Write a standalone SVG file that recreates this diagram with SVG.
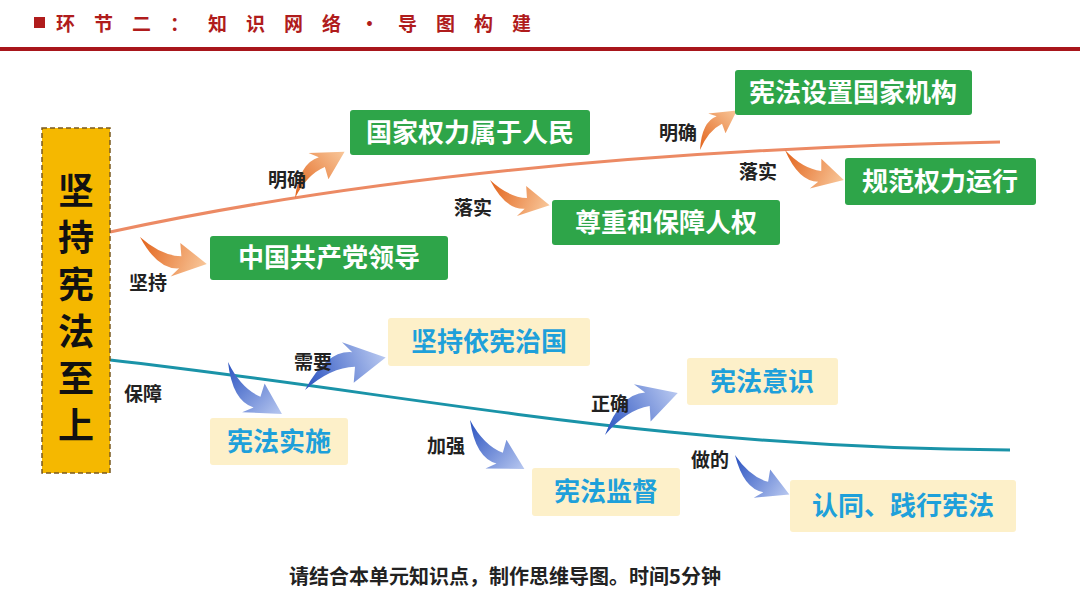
<svg xmlns="http://www.w3.org/2000/svg" width="1080" height="608" viewBox="0 0 1080 608">
<style>
text{font-family:"Noto Sans CJK SC","Liberation Sans",sans-serif;font-weight:bold}
.g{fill:#2ea549}
.c{fill:#fdf0c9}
.gt{fill:#fff;font-size:26px;text-anchor:middle}
.ct{fill:#1ea0da;font-size:26px;text-anchor:middle}
.lb{fill:#222;font-size:19px;text-anchor:middle}
</style>
<defs>
<linearGradient id="og" x1="0" x2="1" y1="0" y2="0"><stop offset="0" stop-color="#e2621a"/><stop offset="1" stop-color="#f8c79a"/></linearGradient>
<linearGradient id="bg" x1="0" x2="1" y1="0" y2="0"><stop offset="0" stop-color="#2a52c0"/><stop offset="1" stop-color="#b8c8f0"/></linearGradient>
<path id="arr" d="M0,0 Q24,-20 40,-12 L36,-21 L60,0 L33,8 L38,-2 Q22,-8 0,0 Z"/>
</defs>
<rect width="1080" height="608" fill="#fff"/>
<rect x="34" y="17" width="11" height="11" fill="#b01c1c"/>
<text x="56" y="31" fill="#b01c1c" font-size="19" letter-spacing="19">环节二：知识网络·导图构建</text>
<rect x="0" y="47" width="1080" height="4" fill="#a8161b"/>
<g id="connectors">
<path d="M110,232 Q480,152 1000,142" fill="none" stroke="#ec8a64" stroke-width="3"/>
<path d="M110,360 C420,395 650,448 1010,450" fill="none" stroke="#1a93a8" stroke-width="3"/>
<g fill="url(#og)">
<use href="#arr" transform="translate(295,198) rotate(-43) scale(1.13)"/>
<use href="#arr" transform="translate(140,237) rotate(22) scale(1.2,-1.2)"/>
<use href="#arr" transform="translate(490,180) rotate(23) scale(1.08,-1.08)"/>
<use href="#arr" transform="translate(700,150) rotate(-47) scale(0.9)"/>
<use href="#arr" transform="translate(785,150) rotate(27) scale(1.1,-1.1)"/>
</g>
<g fill="url(#bg)">
<use href="#arr" transform="translate(228,362) rotate(44) scale(1.25,-1.25)"/>
<use href="#arr" transform="translate(305,390) rotate(-22) scale(1.45)"/>
<use href="#arr" transform="translate(470,420) rotate(42) scale(1.22,-1.22)"/>
<use href="#arr" transform="translate(605,435) rotate(-30) scale(1.4)"/>
<use href="#arr" transform="translate(735,455) rotate(36) scale(1.12,-1.12)"/>
</g>
<text class="lb" x="287" y="187">明确</text>
<text class="lb" x="148" y="290">坚持</text>
<text class="lb" x="473" y="215">落实</text>
<text class="lb" x="678" y="140">明确</text>
<text class="lb" x="758" y="179">落实</text>
<text class="lb" x="313" y="369">需要</text>
<text class="lb" x="143" y="401">保障</text>
<text class="lb" x="446" y="453">加强</text>
<text class="lb" x="610" y="411">正确</text>
<text class="lb" x="710" y="467">做的</text>
</g>
<g id="root">
<rect x="42" y="128" width="68" height="345" fill="#f5b800" stroke="#7a5a20" stroke-width="1.5" stroke-dasharray="5,3"/>
<text font-size="36" fill="#111" text-anchor="middle"><tspan x="76" y="204">坚</tspan><tspan x="76" y="251">持</tspan><tspan x="76" y="298">宪</tspan><tspan x="76" y="345">法</tspan><tspan x="76" y="392">至</tspan><tspan x="76" y="439">上</tspan></text>
</g>
<g id="n1"><rect class="g" x="350" y="110" width="240" height="45" rx="3"/><text class="gt" x="470" y="142">国家权力属于人民</text></g>
<g id="n2"><rect class="g" x="735" y="70" width="237" height="45" rx="3"/><text class="gt" x="853" y="102">宪法设置国家机构</text></g>
<g id="n3"><rect class="g" x="210" y="236" width="238" height="44" rx="3"/><text class="gt" x="329" y="267">中国共产党领导</text></g>
<g id="n4"><rect class="g" x="552" y="200" width="228" height="45" rx="3"/><text class="gt" x="666" y="232">尊重和保障人权</text></g>
<g id="n5"><rect class="g" x="845" y="158" width="191" height="47" rx="3"/><text class="gt" x="940" y="191">规范权力运行</text></g>
<g id="n6"><rect class="c" x="388" y="318" width="202" height="48" rx="3"/><text class="ct" x="489" y="351">坚持依宪治国</text></g>
<g id="n7"><rect class="c" x="210" y="418" width="138" height="47" rx="3"/><text class="ct" x="279" y="451">宪法实施</text></g>
<g id="n8"><rect class="c" x="687" y="358" width="151" height="47" rx="3"/><text class="ct" x="762" y="391">宪法意识</text></g>
<g id="n9"><rect class="c" x="532" y="468" width="148" height="48" rx="3"/><text class="ct" x="606" y="501">宪法监督</text></g>
<g id="n10"><rect class="c" x="790" y="480" width="226" height="52" rx="3"/><text class="ct" x="903" y="515">认同、践行宪法</text></g>
<text x="505" y="584" font-size="20" fill="#222" text-anchor="middle">请结合本单元知识点，制作思维导图。时间5分钟</text>
</svg>
